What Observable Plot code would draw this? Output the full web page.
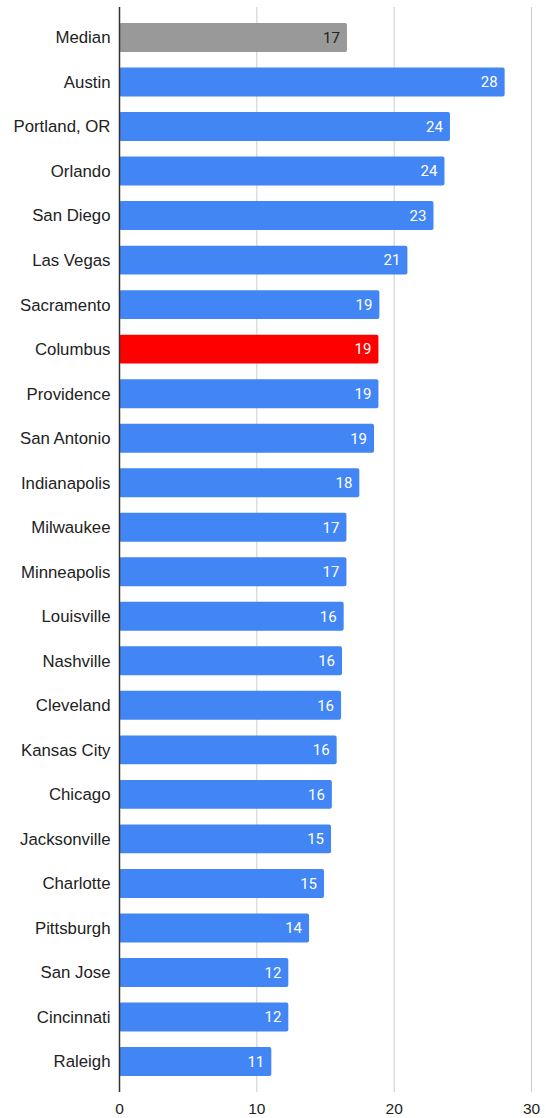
<!DOCTYPE html>
<html>
<head>
<meta charset="utf-8">
<script src="https://cdn.jsdelivr.net/npm/d3@7"></script>
<script src="https://cdn.jsdelivr.net/npm/@observablehq/plot@0.6"></script>
<style>
  html, body { margin: 0; padding: 0; background: #fff; }
  svg { display: block; }
</style>
</head>
<body>
<div id="chart"></div>
<script>
const cities = ["Median","Austin","Portland, OR","Orlando","San Diego","Las Vegas","Sacramento","Columbus","Providence","San Antonio","Indianapolis","Milwaukee","Minneapolis","Louisville","Nashville","Cleveland","Kansas City","Chicago","Jacksonville","Charlotte","Pittsburgh","San Jose","Cincinnati","Raleigh"];
const values = [16.6,28.08,24.1,23.7,22.9,21.0,18.96,18.89,18.89,18.57,17.5,16.56,16.56,16.36,16.24,16.17,15.85,15.5,15.44,14.93,13.84,12.33,12.33,11.09];
const xTicks = [0,10,20,30];
const highlight = {"Median": "#999999", "Columbus": "#ff0000"};
const defaultColor = "#4285f4";

const data = cities.map((c, i) => ({city: c, value: values[i], color: highlight[c] || defaultColor}));

const chart = Plot.plot({
  width: 546,
  height: 1118,
  marginLeft: 119,
  marginRight: 15,
  marginTop: 7,
  marginBottom: 26,
  style: {fontFamily: "'Liberation Sans', Arial, sans-serif", fontSize: "15px", color: "#222"},
  x: {domain: [0, 30], ticks: xTicks},
  y: {domain: cities, paddingInner: 0.35, paddingOuter: 0.36, round: false},
  marks: [
    Plot.gridX(xTicks.slice(1), {stroke: "#cccccc", strokeOpacity: 1, strokeWidth: 1}),
    Plot.barX(data, {x: "value", y: "city", fill: "color", rx: 2}),
    Plot.ruleX([0], {stroke: "#333", strokeWidth: 1.5}),
    Plot.text(data, {x: "value", y: "city", text: d => d3.format(".0f")(d.value), textAnchor: "end", dx: -7.5, fill: d => d.city === "Median" ? "#222" : "#ffffff", fontSize: 15, fontFamily: "Roboto, sans-serif"}),
    Plot.axisY({tickSize: 0, tickPadding: 9, fontSize: 16.8, label: null}),
    Plot.axisX(xTicks, {tickSize: 0, tickPadding: 10, fontSize: 15.5, label: null})
  ]
});
document.getElementById("chart").appendChild(chart);
</script>
</body>
</html>
